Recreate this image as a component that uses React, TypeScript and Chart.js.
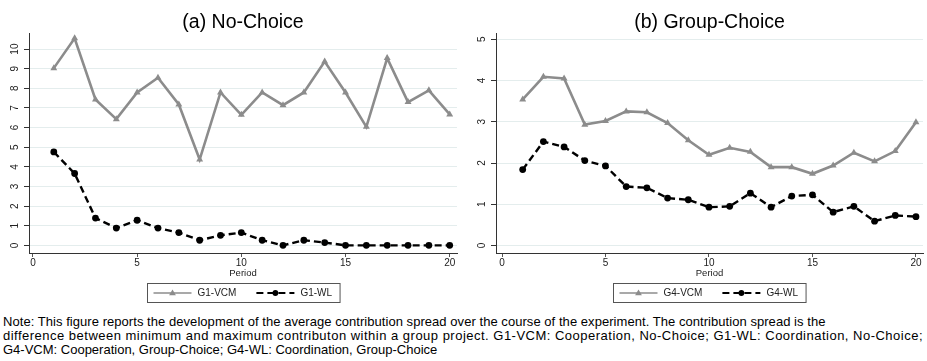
import React, { useEffect, useRef } from "react";
import { Chart, registerables } from "chart.js";

Chart.register(...registerables);

// Periods of the experiment
const periods = [1, 2, 3, 4, 5, 6, 7, 8, 9, 10, 11, 12, 13, 14, 15, 16, 17, 18, 19, 20];

// Average contribution spread, No-Choice treatment
const g1Vcm = [9.03, 10.55, 7.43, 6.43, 7.79, 8.54, 7.18, 4.37, 7.79, 6.65, 7.79, 7.14, 7.79, 9.37, 7.79, 6.04, 9.54, 7.3, 7.9, 6.67];
const g1Wl = [4.76, 3.66, 1.39, 0.88, 1.28, 0.88, 0.65, 0.26, 0.51, 0.65, 0.26, 0.0, 0.26, 0.14, 0.0, 0.0, 0.0, 0.0, 0.0, 0.0];

// Average contribution spread, Group-Choice treatment
const g4Vcm = [3.54, 4.09, 4.05, 2.93, 3.02, 3.25, 3.23, 2.97, 2.55, 2.2, 2.37, 2.27, 1.9, 1.9, 1.74, 1.94, 2.25, 2.04, 2.29, 2.99];
const g4Wl = [1.84, 2.52, 2.39, 2.06, 1.93, 1.43, 1.4, 1.15, 1.11, 0.93, 0.95, 1.27, 0.93, 1.2, 1.23, 0.81, 0.95, 0.59, 0.73, 0.7];

// Axis ticks
const xTicks = [0, 5, 10, 15, 20];
const yTicksA = [0, 1, 2, 3, 4, 5, 6, 7, 8, 9, 10];
const yTicksB = [0, 1, 2, 3, 4, 5];

const FONT = "'Liberation Sans', Arial, Helvetica, sans-serif";
const VCM_COLOR = "#8c8c8c";
const WL_COLOR = "#000000";
const AXIS_COLOR = "#333333";
const GRID_COLOR = "#e4eded";

type PanelProps = {
  title: string;
  vcmLabel: string;
  wlLabel: string;
  vcm: number[];
  wl: number[];
  yTicks: number[];
  yMin: number;
  yMax: number;
  xMin: number;
  xMax: number;
  width: number;
  height: number;
  area: { left: number; right: number; top: number; bottom: number };
};

function drawMarker(ctx: CanvasRenderingContext2D, style: string, x: number, y: number, r: number, color: string) {
  ctx.save();
  ctx.fillStyle = color;
  ctx.beginPath();
  if (style === "triangle") {
    const h = r * 1.7;
    ctx.moveTo(x, y - h * 0.62);
    ctx.lineTo(x + r, y + h * 0.38);
    ctx.lineTo(x - r, y + h * 0.38);
    ctx.closePath();
  } else {
    ctx.arc(x, y, r, 0, Math.PI * 2);
  }
  ctx.fill();
  ctx.restore();
}

// Rotated y tick labels, panel title and boxed legend
const panelDecor = {
  id: "panelDecor",
  afterDraw(chart: any, _args: any, opts: any) {
    const { ctx, chartArea } = chart;
    const yScale = chart.scales.y;
    ctx.save();
    // y tick labels, reading bottom to top
    ctx.fillStyle = "#222";
    ctx.font = `10px ${FONT}`;
    ctx.textAlign = "center";
    ctx.textBaseline = "middle";
    for (const t of yScale.ticks) {
      const py = yScale.getPixelForValue(t.value);
      ctx.save();
      ctx.translate(chartArea.left - 14, py);
      ctx.rotate(-Math.PI / 2);
      ctx.fillText(String(t.value), 0, 0);
      ctx.restore();
    }
    // title
    ctx.fillStyle = "#000";
    ctx.font = `19.5px ${FONT}`;
    ctx.textAlign = "center";
    ctx.textBaseline = "alphabetic";
    ctx.fillText(opts.title, (chartArea.left + chartArea.right) / 2, 28);

    // legend
    ctx.font = `10px ${FONT}`;
    const items = chart.data.datasets.map((d: any) => ({
      label: d.label,
      color: d.borderColor,
      dash: d.borderDash || [],
      style: d.pointStyle,
      radius: d.pointRadius,
      w: ctx.measureText(d.label).width,
    }));
    const sampleW = 38;
    let total = 6;
    items.forEach((it: any, i: number) => {
      total += sampleW + 6 + it.w + (i < items.length - 1 ? 20 : 0);
    });
    total += 8;
    const bx = Math.round((chartArea.left + chartArea.right) / 2 - total / 2) + 0.5;
    const by = opts.legendTop + 0.5;
    const bh = 19;
    ctx.fillStyle = "#fff";
    ctx.fillRect(bx, by, total, bh);
    ctx.strokeStyle = "#555";
    ctx.lineWidth = 1;
    ctx.strokeRect(bx, by, total, bh);
    const cy = by + bh / 2;
    let x = bx + 6;
    items.forEach((it: any) => {
      ctx.save();
      ctx.strokeStyle = it.color;
      ctx.lineWidth = it.dash.length ? 2.2 : 1.6;
      ctx.setLineDash(it.dash);
      ctx.beginPath();
      ctx.moveTo(x, cy);
      ctx.lineTo(x + sampleW, cy);
      ctx.stroke();
      ctx.restore();
      drawMarker(ctx, it.style, x + sampleW / 2, cy, it.radius * 0.85, it.color);
      ctx.fillStyle = "#222";
      ctx.textAlign = "left";
      ctx.textBaseline = "middle";
      ctx.fillText(it.label, x + sampleW + 6, cy + 0.5);
      x += sampleW + 6 + it.w + 20;
    });
    ctx.restore();
  },
};

function Panel(p: PanelProps) {
  const ref = useRef<HTMLCanvasElement>(null);
  useEffect(() => {
    const canvas = ref.current;
    if (!canvas) return;
    const xAxisH = 26;
    const chart = new Chart(canvas, {
      type: "line",
      data: {
        datasets: [
          {
            label: p.vcmLabel,
            data: periods.map((x, i) => ({ x, y: p.vcm[i] })),
            borderColor: VCM_COLOR,
            backgroundColor: VCM_COLOR,
            borderWidth: 2.6,
            pointStyle: "triangle",
            pointRadius: 4,
            pointBackgroundColor: VCM_COLOR,
            pointBorderWidth: 0,
            tension: 0,
          },
          {
            label: p.wlLabel,
            data: periods.map((x, i) => ({ x, y: p.wl[i] })),
            borderColor: WL_COLOR,
            backgroundColor: WL_COLOR,
            borderWidth: 2.4,
            borderDash: [7, 4],
            pointStyle: "circle",
            pointRadius: 3.4,
            pointBackgroundColor: WL_COLOR,
            pointBorderWidth: 0,
            tension: 0,
          },
        ],
      },
      options: {
        animation: false,
        responsive: false,
        devicePixelRatio: 1,
        layout: {
          padding: {
            left: 0,
            top: p.area.top,
            right: p.width - p.area.right,
            bottom: p.height - p.area.bottom - xAxisH,
          },
        },
        plugins: {
          legend: { display: false },
          title: { display: false },
          tooltip: { enabled: false },
          panelDecor: { title: p.title, legendTop: 283 },
        } as any,
        scales: {
          x: {
            type: "linear",
            min: p.xMin,
            max: p.xMax,
            afterBuildTicks: (s: any) => {
              s.ticks = xTicks.map((v) => ({ value: v }));
            },
            afterFit: (s: any) => {
              s.height = xAxisH;
            },
            grid: {
              drawOnChartArea: false,
              drawTicks: true,
              tickLength: 4,
              tickColor: "#555",
            },
            border: { display: true, color: AXIS_COLOR, width: 1 },
            ticks: {
              padding: 0,
              color: "#222",
              font: { family: FONT, size: 10 },
              maxRotation: 0,
              autoSkip: false,
            },
            title: {
              display: true,
              text: "Period",
              color: "#222",
              font: { family: FONT, size: 9.5 },
              padding: { top: 0, bottom: 0 },
            },
          },
          y: {
            type: "linear",
            min: p.yMin,
            max: p.yMax,
            afterBuildTicks: (s: any) => {
              s.ticks = p.yTicks.map((v) => ({ value: v }));
            },
            afterFit: (s: any) => {
              s.width = p.area.left;
            },
            grid: {
              color: GRID_COLOR,
              lineWidth: 1,
              drawTicks: true,
              tickLength: 5,
              tickColor: AXIS_COLOR,
            },
            border: { display: true, color: AXIS_COLOR, width: 1 },
            ticks: { display: false },
          },
        },
      },
      plugins: [panelDecor],
    });
    return () => chart.destroy();
  }, []);
  return (
    <canvas
      ref={ref}
      width={p.width}
      height={p.height}
      style={{ display: "block", width: p.width, height: p.height }}
    />
  );
}

export default function App() {
  return (
    <div
      style={{
        position: "absolute",
        left: 0,
        top: 0,
        width: 927,
        height: 361,
        background: "#fff",
        overflow: "hidden",
      }}
    >
      <div style={{ position: "absolute", left: 0, top: 0 }}>
        <Panel
          title="(a) No-Choice"
          vcmLabel="G1-VCM"
          wlLabel="G1-WL"
          vcm={g1Vcm}
          wl={g1Wl}
          yTicks={yTicksA}
          yMin={-0.39}
          yMax={10.82}
          xMin={-0.19}
          xMax={20.35}
          width={463}
          height={306}
          area={{ left: 29, right: 457, top: 33, bottom: 253 }}
        />
      </div>
      <div style={{ position: "absolute", left: 463, top: 0 }}>
        <Panel
          title="(b) Group-Choice"
          vcmLabel="G4-VCM"
          wlLabel="G4-WL"
          vcm={g4Vcm}
          wl={g4Wl}
          yTicks={yTicksB}
          yMin={-0.18}
          yMax={5.15}
          xMin={-0.29}
          xMax={20.34}
          width={464}
          height={306}
          area={{ left: 33, right: 462, top: 33, bottom: 253 }}
        />
      </div>
      <div
        style={{
          position: "absolute",
          left: 3,
          top: 315,
          fontFamily: FONT,
          fontSize: 13,
          lineHeight: "14px",
          color: "#000",
          whiteSpace: "nowrap",
        }}
      >
        <div style={{ letterSpacing: "0.05px" }}>
          Note: This figure reports the development of the average contribution spread over the course of the experiment. The contribution spread is the
        </div>
        <div style={{ letterSpacing: "0.49px" }}>
          difference between minimum and maximum contributon within a group project. G1-VCM: Cooperation, No-Choice; G1-WL: Coordination, No-Choice;
        </div>
        <div>G4-VCM: Cooperation, Group-Choice; G4-WL: Coordination, Group-Choice</div>
      </div>
    </div>
  );
}
